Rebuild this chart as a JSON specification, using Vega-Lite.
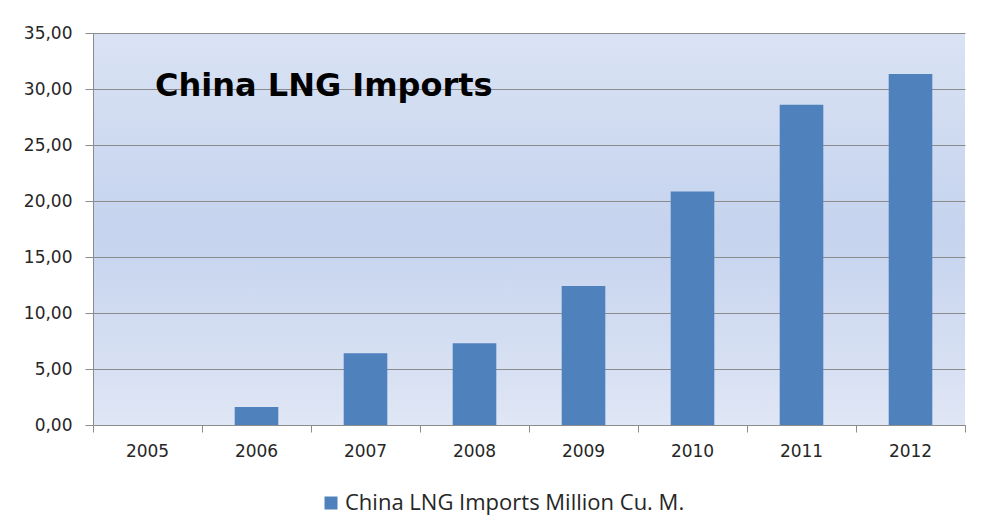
{
  "$schema": "https://vega.github.io/schema/vega-lite/v6.json",
  "width": 872,
  "height": 392,
  "autosize": "none",
  "padding": {"left": 93, "top": 33, "right": 16, "bottom": 107},
  "background": "white",
  "title": {
    "text": "China LNG Imports",
    "anchor": "start",
    "frame": "group",
    "orient": "top",
    "font": "DejaVu Sans",
    "fontSize": 32,
    "fontWeight": "bold",
    "color": "#000000",
    "baseline": "alphabetic",
    "offset": -104,
    "dx": 62
  },
  "data": {
    "values": [
      {"year": "2005", "value": 0, "series": "China LNG Imports Million Cu. M."},
      {"year": "2006", "value": 1.6, "series": "China LNG Imports Million Cu. M."},
      {"year": "2007", "value": 6.4, "series": "China LNG Imports Million Cu. M."},
      {"year": "2008", "value": 7.3, "series": "China LNG Imports Million Cu. M."},
      {"year": "2009", "value": 12.4, "series": "China LNG Imports Million Cu. M."},
      {"year": "2010", "value": 20.85, "series": "China LNG Imports Million Cu. M."},
      {"year": "2011", "value": 28.6, "series": "China LNG Imports Million Cu. M."},
      {"year": "2012", "value": 31.35, "series": "China LNG Imports Million Cu. M."}
    ]
  },
  "mark": {"type": "bar", "width": {"band": 0.4}},
  "encoding": {
    "x": {
      "field": "year",
      "type": "ordinal",
      "scale": {"paddingInner": 0, "paddingOuter": 0},
      "axis": {
        "title": null,
        "labelAngle": 0,
        "bandPosition": 1,
        "tickExtra": true,
        "domainColor": "#8c8c8c",
        "tickColor": "#8c8c8c",
        "tickSize": 7,
        "labelPadding": 11,
        "labelFont": "DejaVu Sans",
        "labelFontSize": 17,
        "labelColor": "#262626",
        "grid": false
      }
    },
    "y": {
      "field": "value",
      "type": "quantitative",
      "scale": {"domain": [0, 35], "nice": false},
      "axis": {
        "title": null,
        "values": [0, 5, 10, 15, 20, 25, 30, 35],
        "labelExpr": "replace(format(datum.value, '.2f'), '.', ',')",
        "domainColor": "#8c8c8c",
        "tickColor": "#8c8c8c",
        "tickSize": 8,
        "labelPadding": 13,
        "labelFont": "DejaVu Sans",
        "labelFontSize": 17,
        "labelColor": "#262626",
        "grid": true,
        "gridColor": "#8c8c8c",
        "gridWidth": 1.2
      }
    },
    "color": {
      "field": "series",
      "type": "nominal",
      "scale": {"range": ["#4f81bd"]},
      "legend": {
        "title": null,
        "orient": "none",
        "legendX": 227,
        "legendY": 459,
        "padding": 0,
        "symbolType": "square",
        "symbolSize": 169,
        "symbolStrokeWidth": 0,
        "labelFont": "Open Sans",
        "labelFontSize": 22,
        "labelColor": "#262626",
        "labelOffset": 3,
        "labelLimit": 0
      }
    }
  },
  "config": {
    "view": {
      "stroke": null,
      "fill": {
        "gradient": "linear",
        "x1": 0, "y1": 0, "x2": 0, "y2": 1,
        "stops": [
          {"offset": 0, "color": "#dae3f4"},
          {"offset": 0.5, "color": "#c5d3ee"},
          {"offset": 1, "color": "#dfe6f5"}
        ]
      }
    }
  }
}
